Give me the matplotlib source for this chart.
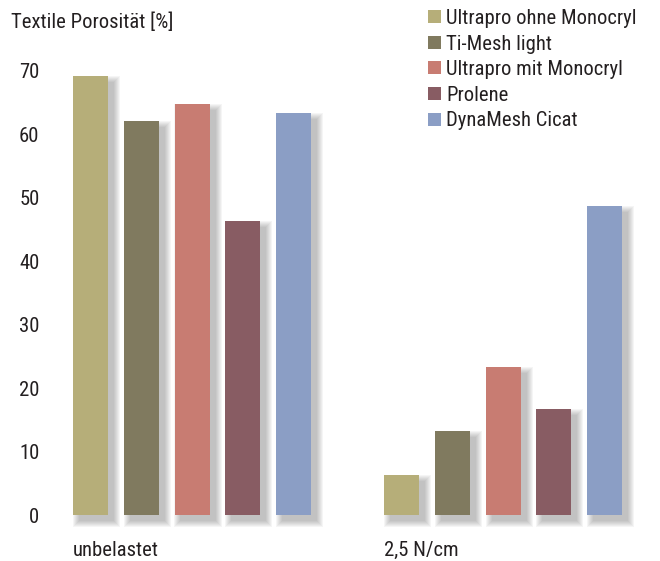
import matplotlib
matplotlib.use("Agg")
import matplotlib.pyplot as plt
from matplotlib import font_manager
from matplotlib.patches import Patch
from matplotlib.transforms import ScaledTranslation, blended_transform_factory

groups = ["unbelastet", "2,5 N/cm"]
series = ["Ultrapro ohne Monocryl", "Ti-Mesh light", "Ultrapro mit Monocryl",
          "Prolene", "DynaMesh Cicat"]
values_unbelastet = [69.0, 62.0, 64.7, 46.2, 63.2]
values_25 = [6.2, 13.1, 23.2, 16.6, 48.6]
colors = ["#B6AE79", "#807A5F", "#C87C72", "#885C63", "#8B9EC5"]
yticks = [0, 10, 20, 30, 40, 50, 60, 70]
title = "Textile Porosität [%]"

# ---- font choice (condensed sans, close to Frutiger Condensed)
fonts = {}
for f in font_manager.fontManager.ttflist:
    fonts.setdefault(f.name, set()).add(f.weight if isinstance(f.weight, int) else 400)
fam = "DejaVu Sans"
for cand in ["Roboto Condensed", "Fira Sans Condensed", "PT Sans Narrow",
             "Liberation Sans"]:
    if cand in fonts and any(350 <= w <= 500 for w in fonts[cand]):
        fam = cand
        break
plt.rcParams["font.family"] = [fam, "DejaVu Sans"]
plt.rcParams["font.weight"] = "normal"
txt = "#231F20"

W, H = 660, 561
fig = plt.figure(figsize=(W / 100, H / 100), dpi=100)
renderer = fig.canvas.get_renderer()

# size text so that the longest legend label spans ~191 px as in the reference
probe = fig.text(0, 0, series[0], fontsize=16)
wpx = probe.get_window_extent(renderer).width
probe.remove()
fs = 16 * 191.0 / wpx
fs_px = fs * 100 / 72

# ---- axes geometry in pixels
ax_left_px, ax_right_px = 60, 650
y0_px, y70_px = 514.5, 70.0
ax = fig.add_axes([ax_left_px / W, 1 - y0_px / H,
                   (ax_right_px - ax_left_px) / W, (y0_px - y70_px) / H])

pitch_px = 50.75
bar_w = 0.69
group_gap = 6.13
first_left_px = 73
x_lo = -bar_w / 2 - (first_left_px - ax_left_px) / pitch_px
x_hi = -bar_w / 2 + (ax_right_px - first_left_px) / pitch_px
ax.set_xlim(x_lo, x_hi)
ax.set_ylim(0, 70)

px_x = 1 / pitch_px
px_y = 70 / (y0_px - y70_px)

all_vals = [values_unbelastet, values_25]
for g, vals in enumerate(all_vals):
    xs = [g * group_gap + i for i in range(len(vals))]
    dx, dy = 6, 6
    for k in range(7):
        e = 6 - k
        ax.bar([x + dx * px_x for x in xs], [v + 2 * e * px_y for v in vals],
               width=bar_w + 2 * e * px_x,
               bottom=[-(dy + e) * px_y] * len(vals),
               color="#4a4a4a", alpha=0.055, linewidth=0, clip_on=False, zorder=1)
    ax.bar(xs, vals, width=bar_w, color=colors, linewidth=0, zorder=3)

for s in ax.spines.values():
    s.set_visible(False)
ax.set_yticks(yticks)
ax.set_yticklabels([str(t) for t in yticks], fontsize=fs, color=txt)
ax.tick_params(axis="y", length=0, pad=(ax_left_px - 39.5) * 0.72)
off = ScaledTranslation(0, -8.3 / 100, fig.dpi_scale_trans)
for lab in ax.get_yticklabels():
    lab.set_va("baseline")
    lab.set_transform(lab.get_transform() + off)
ax.set_xticks([])

# category labels, left aligned with first bar of each group
trans = blended_transform_factory(ax.transData, fig.transFigure)
for g, name in enumerate(groups):
    ax.text(g * group_gap - bar_w / 2, 1 - 555.5 / H, name, transform=trans,
            fontsize=fs, color=txt, ha="left", va="baseline", clip_on=False)

fig.text(11 / W, 1 - 28.3 / H, title, fontsize=fs, color=txt, ha="left", va="baseline")

# ---- legend
handles = [Patch(facecolor=c, edgecolor="none") for c in colors]
ls = 0.1
anchor = [428 / W, 1 - 3 / H]


def make_legend(ls, anchor):
    lg = fig.legend(handles, series, loc="upper left",
                    bbox_to_anchor=tuple(anchor), frameon=False,
                    fontsize=fs, handlelength=12.5 / fs_px, handleheight=12 / fs_px,
                    handletextpad=6 / fs_px, labelspacing=ls, borderpad=0,
                    borderaxespad=0)
    for t in lg.get_texts():
        t.set_color(txt)
    return lg


leg = make_legend(ls, anchor)
fig.canvas.draw()
hb = [h.get_window_extent(renderer) for h in leg.legend_handles]
spacing = (hb[0].y0 - hb[-1].y0) / 4
ls = ls + (25.6 - spacing) / fs_px
leg.remove()
leg = make_legend(ls, anchor)
fig.canvas.draw()
hb = [h.get_window_extent(renderer) for h in leg.legend_handles]
cy = H - (hb[0].y0 + hb[0].y1) / 2
anchor = [anchor[0] + (428 - hb[0].x0) / W, anchor[1] - (16.7 - cy) / H]
leg.remove()
leg = make_legend(ls, anchor)

fig.savefig("out.png", dpi=100)
